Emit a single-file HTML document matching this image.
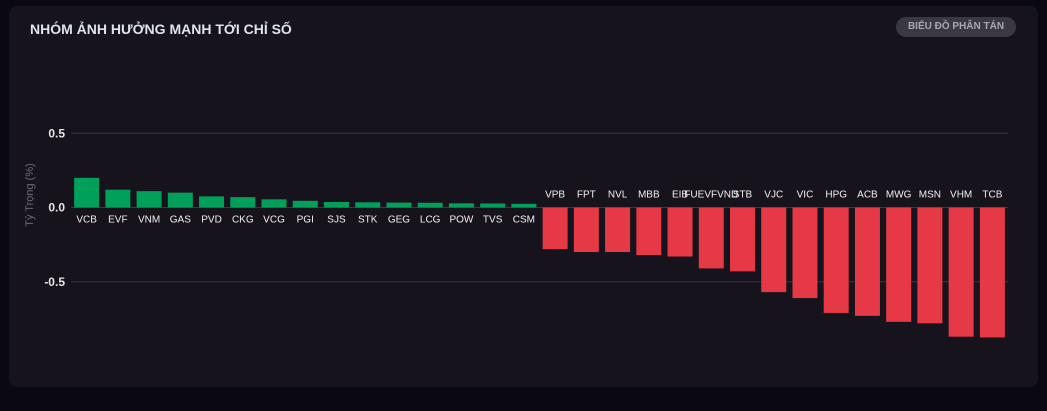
<!DOCTYPE html>
<html><head><meta charset="utf-8"><style>
body{margin:0;width:1047px;height:411px;background:#0a0911;font-family:"Liberation Sans",sans-serif;overflow:hidden}
.card{position:absolute;left:9px;top:6px;width:1029px;height:381px;background:#16131c;border-radius:8px}
.title{position:absolute;left:21px;top:15px;color:#dfe3ea;font-weight:bold;font-size:14px}
.badge{position:absolute;left:887px;top:11px;width:120px;height:20px;border-radius:10px;background:#3a3842;color:#a9a8b0;font-size:10px;font-weight:bold;text-align:center;line-height:20px}
</style></head><body>
<div class="card">
<div class="title">NHÓM ẢNH HƯỞNG MẠNH TỚI CHỈ SỐ</div>
<div class="badge">BIỂU ĐỒ PHÂN TÁN</div>
</div>
<svg id="c" width="1047" height="411" style="position:absolute;left:0;top:0"></svg>
<script>
const categories=["VCB","EVF","VNM","GAS","PVD","CKG","VCG","PGI","SJS","STK","GEG","LCG","POW","TVS","CSM","VPB","FPT","NVL","MBB","EIB","FUEVFVND","STB","VJC","VIC","HPG","ACB","MWG","MSN","VHM","TCB"];
const values=[0.20,0.12,0.11,0.10,0.075,0.07,0.055,0.045,0.037,0.035,0.033,0.032,0.028,0.027,0.025,-0.28,-0.30,-0.30,-0.32,-0.33,-0.41,-0.43,-0.57,-0.61,-0.71,-0.73,-0.77,-0.78,-0.87,-0.875];
const ticks=[0.5,0,-0.5];
const tickLabels=["0.5","0.0","-0.5"];
const svg=document.getElementById('c');const NS="http://www.w3.org/2000/svg";
const x0=71,x1=1008,y0=207.5,k=148.5;
const band=(x1-x0)/categories.length;
const yS=v=>y0-v*k;
const xS=i=>x0+i*band;
function mk(t,a,txt){const e=document.createElementNS(NS,t);for(const q in a)e.setAttribute(q,a[q]);if(txt!=null)e.textContent=txt;svg.appendChild(e);return e;}
ticks.forEach((t,i)=>{
 const l=mk('line',{x1:x0,x2:x1,y1:yS(t),y2:yS(t),stroke:'#3a3843','stroke-width':1});
 
 
 const tx=mk('text',{x:65,y:yS(t)+4,fill:'#e6e6ea','font-size':12,'font-weight':'bold','text-anchor':'end'},tickLabels[i]);
 
 
});
const yt=mk('text',{x:0,y:0,fill:'#6b6a72','font-size':11,'text-anchor':'middle',transform:'translate(33,195) rotate(-90)'},'Tỷ Trọng (%)');


values.forEach((v,i)=>{
 const bw=band*0.8,bx=xS(i)+(band-bw)/2;
 const top=Math.min(yS(v),y0),h=Math.abs(yS(v)-y0);
 const r=mk('rect',{x:bx,y:top,width:bw,height:h,fill:v>=0?'#00a05a':'#e63946'});
 
 
 const t=mk('text',{x:xS(i)+band/2,y:v>=0?y0+15:y0-10,fill:'#f0f0f3','font-size':10,'text-anchor':'middle'},categories[i]);
 
 
});
</script>
</body></html>
